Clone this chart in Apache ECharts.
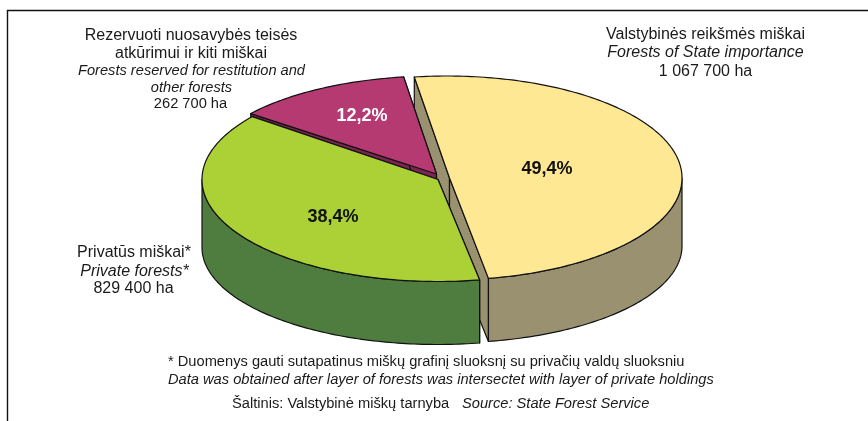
<!DOCTYPE html>
<html>
<head>
<meta charset="utf-8">
<style>
  html, body { margin: 0; padding: 0; background: #fff; }
  #chart { width: 868px; height: 421px; }
</style>
</head>
<body>
<div id="chart"></div>
<script src="https://cdn.jsdelivr.net/npm/echarts@6/dist/echarts.min.js"></script>
<script>
// clockwise from the yellow slice
var shares = [49.4, 38.4, 12.2]
var topColors = ['#FFE893', '#ACD136', '#B53A72']
var sideColors = ['#9A9170', '#4F7D3F', '#7A2550']

// each slice is pulled out a bit, so it has its own centre and radii
var centers = [[447, 178], [438, 179.5], [436.5, 174]]
var apexes = [[449.5, 178], [438, 179.5], [436.5, 174]]
var radiusX = [235, 236, 236]
var radiusY = [102, 102, 98]
var labelPos = [[547, 169], [333, 217], [362, 116]]
var labelColors = ['#111', '#111', '#fff']
var drawOrder = [0, 2, 1]
var startAngle = -8
// bottom ellipse is a bit flatter and lower, the original has some perspective
var bottomShift = 68
var bottomSquash = 5

var FONT = '"Liberation Sans", Arial, sans-serif'

function pt (i, deg) {
  var a = deg * Math.PI / 180
  return [centers[i][0] + radiusX[i] * Math.sin(a), centers[i][1] - radiusY[i] * Math.cos(a)]
}

function lowPt (i, deg) {
  var a = deg * Math.PI / 180
  return [
    centers[i][0] + radiusX[i] * Math.sin(a),
    centers[i][1] + bottomShift - (radiusY[i] - bottomSquash) * Math.cos(a),
  ]
}

function arcPoints (fn, i, from, to) {
  var pts = []
  for (var d = from; d < to; d += 1) {
    pts.push(fn(i, d))
  }
  pts.push(fn(i, to))
  return pts
}

function poly (points, fill) {
  return {
    type: 'polygon',
    shape: { points: points },
    style: { fill: fill, stroke: '#111', lineWidth: 1.2, lineJoin: 'round' },
  }
}

function sliceAngles (i) {
  var sum = 0
  for (var k = 0; k < i; k++) sum += shares[k]
  return [startAngle + sum * 3.6, startAngle + (sum + shares[i]) * 3.6]
}

function renderSlice (params, api) {
  var i = api.value(0)
  var c = apexes[i]
  var ang = sliceAngles(i)
  var side = sideColors[i]
  var low = [c[0], c[1] + bottomShift]
  var kids = []

  // cut faces
  kids.push(poly([c, pt(i, ang[0]), lowPt(i, ang[0]), low], side))
  kids.push(poly([c, pt(i, ang[1]), lowPt(i, ang[1]), low], side))

  // rim, only the part that faces the viewer
  var from = Math.max(ang[0], 90)
  var to = Math.min(ang[1], 270)
  if (from < to) {
    var rim = arcPoints(pt, i, from, to).concat(arcPoints(lowPt, i, from, to).reverse())
    kids.push(poly(rim, side))
  }

  // top
  kids.push(poly([c].concat(arcPoints(pt, i, ang[0], ang[1])), topColors[i]))

  kids.push({
    type: 'text',
    style: {
      x: labelPos[i][0],
      y: labelPos[i][1],
      text: String(shares[i]).replace('.', ',') + '%',
      fill: labelColors[i],
      font: 'bold 18px ' + FONT,
      align: 'center',
      verticalAlign: 'middle',
    },
  })
  return { type: 'group', children: kids }
}

function txt (s, x, y, size, italic, align) {
  return {
    type: 'text',
    x: x,
    y: y,
    style: {
      text: s,
      fill: '#1a1a1a',
      font: (italic ? 'italic ' : '') + size + 'px ' + FONT,
      align: align || 'center',
      verticalAlign: 'middle',
    },
  }
}

var myChart = echarts.init(document.getElementById('chart'), null, { renderer: 'canvas' })

myChart.setOption({
  animation: false,
  backgroundColor: '#fff',
  graphic: [
    {
      type: 'polyline',
      shape: { points: [[7.5, 421], [7.5, 10.5], [868, 10.5]] },
      style: { stroke: '#111', lineWidth: 1.4, fill: null },
    },
    txt('Rezervuoti nuosavybės teisės', 191, 36, 16),
    txt('atkūrimui ir kiti miškai', 191, 53.5, 16),
    txt('Forests reserved for restitution and', 191.5, 71, 14.65, true),
    txt('other forests', 191.5, 87.5, 14.65, true),
    txt('262 700 ha', 190.5, 104, 14.65),
    txt('Valstybinės reikšmės miškai', 705.5, 35, 16),
    txt('Forests of State importance', 705.5, 53, 16, true),
    txt('1 067 700 ha', 705.5, 72, 16),
    txt('Privatūs miškai*', 134, 253, 16),
    txt('Private forests*', 134.5, 272, 16, true),
    txt('829 400 ha', 133.5, 289, 16),
    txt('* Duomenys gauti sutapatinus miškų grafinį sluoksnį su privačių valdų sluoksniu', 168, 362, 14.67, false, 'left'),
    txt('Data was obtained after layer of forests was intersectet with layer of private holdings', 168, 380, 14.67, true, 'left'),
    txt('Šaltinis: Valstybinė miškų tarnyba', 232, 404, 14.67, false, 'left'),
    txt('Source: State Forest Service', 462, 404, 14.67, true, 'left'),
  ],
  series: [{
    type: 'custom',
    coordinateSystem: 'none',
    silent: true,
    renderItem: renderSlice,
    data: drawOrder.map(function (i) { return [i] }),
  }],
})
</script>
</body>
</html>
